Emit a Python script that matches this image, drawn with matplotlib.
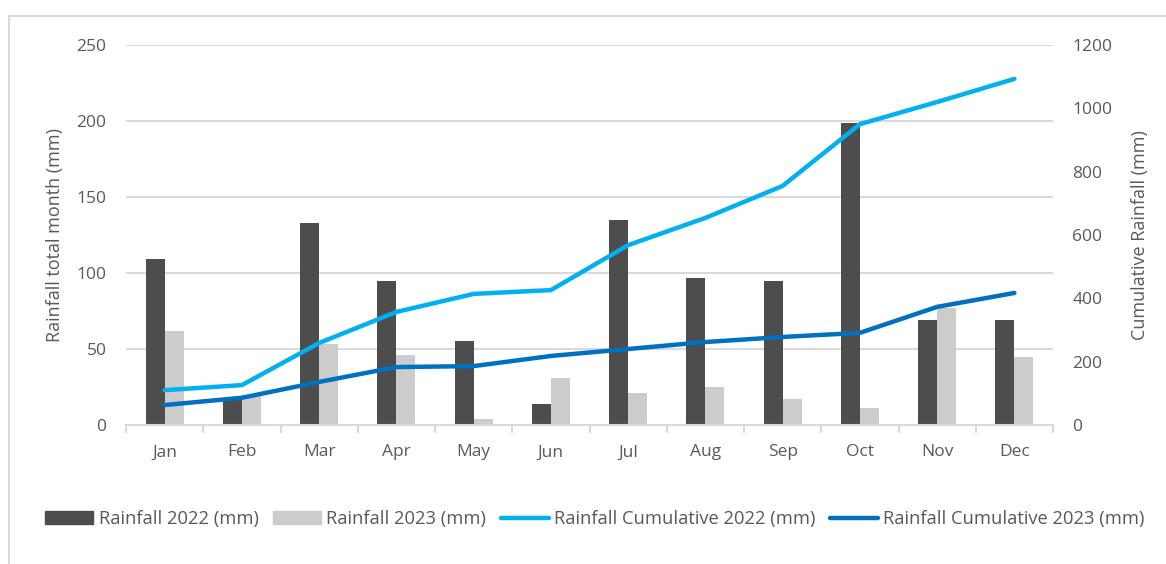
import numpy as np
import matplotlib.pyplot as plt
from matplotlib.patches import Patch, Rectangle
from matplotlib.lines import Line2D

months = ["Jan", "Feb", "Mar", "Apr", "May", "Jun",
          "Jul", "Aug", "Sep", "Oct", "Nov", "Dec"]
rain_2022 = [109, 18, 133, 95, 55, 14, 135, 97, 95, 199, 69, 69]
rain_2023 = [62, 20, 53, 46, 4, 31, 21, 25, 17, 11, 77, 45]
cum_2022 = [110, 126, 259, 357, 414, 426, 568, 654, 755, 950, 1020, 1093]
cum_2023 = [63, 86, 136, 183, 186, 218, 240, 262, 278, 291, 373, 417]

DARK = "#4d4d4d"
LIGHT = "#cccccc"
BLUE_LT = "#00b0f0"
BLUE_DK = "#0070c0"
TXT = "#595959"
GRID = "#d9d9d9"

plt.rcParams["font.family"] = ["Open Sans", "DejaVu Sans"]

W, H = 1166, 564
fig = plt.figure(figsize=(W / 100, H / 100), dpi=100)

# outer chart frame, open on the right and bottom
fig.patches.append(Rectangle((9 / W, -0.1), 1.2, 1 - 16 / H + 0.1,
                             transform=fig.transFigure, fill=False,
                             edgecolor=GRID, linewidth=1.5))

left, right, top, bottom = 126, 1053, 45, 425
ax = fig.add_axes([left / W, 1 - bottom / H, (right - left) / W, (bottom - top) / H])
ax2 = ax.twinx()

x = np.arange(len(months))
bw = 0.245
ax.bar(x - bw / 2, rain_2022, bw, color=DARK, zorder=3, label="Rainfall 2022 (mm)")
ax.bar(x + bw / 2, rain_2023, bw, color=LIGHT, zorder=3, label="Rainfall 2023 (mm)")

ax2.plot(x, cum_2022, color=BLUE_LT, lw=3.2, solid_capstyle="round",
         solid_joinstyle="round")
ax2.plot(x, cum_2023, color=BLUE_DK, lw=3.2, solid_capstyle="round",
         solid_joinstyle="round")

ax.set_xlim(-0.5, len(months) - 0.5)
ax.set_ylim(0, 250)
ax2.set_ylim(0, 1200)
ax.set_yticks(np.arange(0, 251, 50))
ax2.set_yticks(np.arange(0, 1201, 200))

ax.yaxis.grid(True, color=GRID, lw=1.5, zorder=0)
ax.set_axisbelow(True)
for a in (ax, ax2):
    for s in a.spines.values():
        s.set_visible(False)
ax.spines["bottom"].set_visible(True)
ax.spines["bottom"].set_color(GRID)
ax.spines["bottom"].set_linewidth(1.5)
ax.spines["bottom"].set_zorder(4)

# category labels centred, tick marks on the boundaries
ax.set_xticks(x)
ax.set_xticklabels(months)
ax.set_xticks(np.arange(-0.5, len(months)), minor=True)
ax.tick_params(axis="x", which="major", length=0, pad=14, labelsize=12.5, labelcolor=TXT)
ax.tick_params(axis="x", which="minor", length=6, width=1.5, color=GRID)
ax.tick_params(axis="y", length=0, pad=14, labelsize=12.5, labelcolor=TXT)
ax2.tick_params(axis="y", length=0, pad=14, labelsize=12.5, labelcolor=TXT)

ax.set_ylabel("Rainfall total month (mm)", fontsize=13, color=TXT, labelpad=9)
ax2.set_ylabel("Cumulative Rainfall (mm)", fontsize=13, color=TXT, labelpad=13)

handles = [
    Patch(color=DARK),
    Patch(color=LIGHT),
    Line2D([], [], color=BLUE_LT, lw=3.2, solid_capstyle="round"),
    Line2D([], [], color=BLUE_DK, lw=3.2, solid_capstyle="round"),
]
labels = ["Rainfall 2022 (mm)", "Rainfall 2023 (mm)",
          "Rainfall Cumulative 2022 (mm)", "Rainfall Cumulative 2023 (mm)"]
fig.legend(handles, labels, loc="center", ncol=4, frameon=False,
           bbox_to_anchor=(595 / W, 1 - 519 / H), fontsize=13.2,
           labelcolor=TXT, handlelength=2.6, handleheight=0.7,
           handletextpad=0.3, columnspacing=0.8)

fig.savefig("out.png", dpi=100)
